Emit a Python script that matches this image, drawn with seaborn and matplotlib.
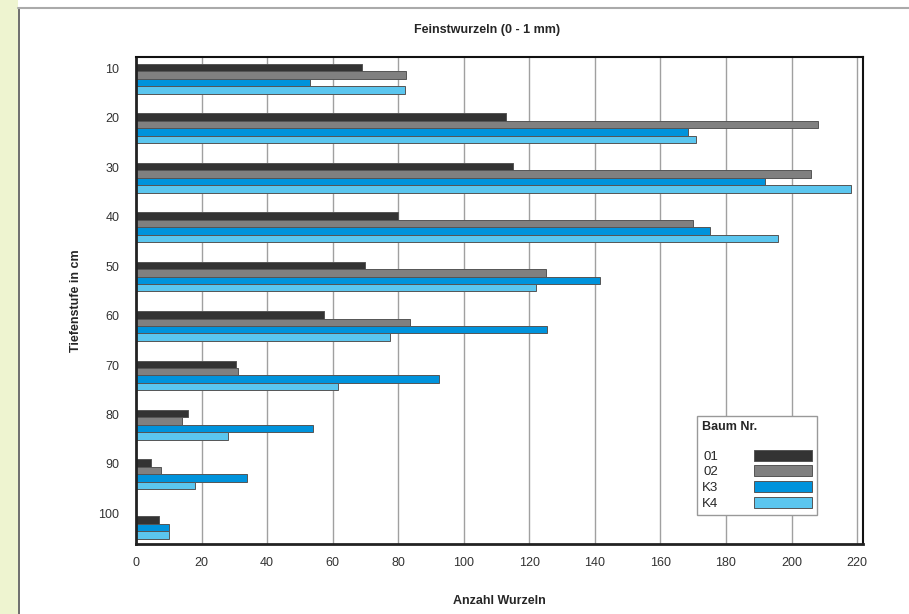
import matplotlib
matplotlib.use("Agg")
import matplotlib.pyplot as plt
import numpy as np
import pandas as pd
import seaborn as sns
from matplotlib.patches import Rectangle, Patch
from matplotlib.lines import Line2D

depths = ['10', '20', '30', '40', '50', '60', '70', '80', '90', '100']
trees = ['01', '02', 'K3', 'K4']

# Anzahl Wurzeln per depth
b01 = [69, 113, 115, 80, 70, 57.5, 30.5, 16, 4.5, 0]
b02 = [82.5, 208, 206, 170, 125, 83.5, 31, 14, 7.5, 7]
k3 = [53, 168.5, 192, 175, 141.5, 125.5, 92.5, 54, 34, 10]
k4 = [82, 171, 218, 196, 122, 77.5, 61.5, 28, 18, 10]

colors = ['#333333', '#808080', '#0093DC', '#5BC6EF']

df = pd.DataFrame({'Tiefe': depths, '01': b01, '02': b02, 'K3': k3, 'K4': k4})
df = df.melt(id_vars='Tiefe', var_name='Baum', value_name='Anzahl')

sns.set_style("white")
plt.rcParams['font.family'] = ['Liberation Sans', 'DejaVu Sans']

fig = plt.figure(figsize=(9.09, 6.14), dpi=100)
ax = fig.add_axes([0.1496, 0.114, 0.7998, 0.793])

# page decoration: yellow strip left, gray border lines
fig.patches.append(Rectangle((0, 0), 18 / 909, 1, transform=fig.transFigure,
                             facecolor='#EEF4D0', edgecolor='none', zorder=0))
fig.lines.append(Line2D([18.5 / 909, 18.5 / 909], [0, 1 - 8 / 614], transform=fig.transFigure,
                        color='#555555', lw=1.2))
fig.lines.append(Line2D([18 / 909, 1], [1 - 8 / 614, 1 - 8 / 614], transform=fig.transFigure,
                        color='#AAAAAA', lw=1.5))

sns.barplot(data=df, y='Tiefe', x='Anzahl', hue='Baum', orient='h', order=depths,
            hue_order=trees, palette=colors, saturation=1, width=0.6,
            edgecolor='#555555', linewidth=0.7, ax=ax, legend=False)

# in the original the deepest 02 bar is drawn in the dark 01 colour
bars_02 = ax.containers[1]
bars_02[len(depths) - 1].set_facecolor(colors[0])

ax.set_xlim(0, 221.8)
ax.set_ylim(9.41, -0.44)
ax.set_xticks(np.arange(0, 221, 20))
ax.set_yticks(np.arange(len(depths)) - 0.21, depths)
ax.tick_params(axis='both', length=0, labelsize=9, colors='#333333')
ax.tick_params(axis='x', pad=9)
ax.tick_params(axis='y', pad=12)
ax.grid(axis='x', color='#A0A0A0', linewidth=1)
ax.set_axisbelow(True)

for side in ['left', 'bottom']:
    ax.spines[side].set_linewidth(2)
    ax.spines[side].set_color('#222222')
for side in ['top', 'right']:
    ax.spines[side].set_linewidth(1.5)
    ax.spines[side].set_color('#111111')

ax.set_xlabel('Anzahl Wurzeln', fontsize=9, fontweight='bold', labelpad=19)
ax.set_ylabel('Tiefenstufe in cm', fontsize=9, fontweight='bold', labelpad=12)
fig.text(0.536, 1 - 30 / 614, 'Feinstwurzeln (0 - 1 mm)', ha='center', va='center',
         fontsize=9, fontweight='bold')

handles = [Patch(facecolor=c, edgecolor='#555555', linewidth=0.7) for c in colors]
leg = ax.legend(handles, trees, title='Baum Nr.\n', loc='upper left',
                bbox_to_anchor=((697 - 136) / 727, 1 - (416 - 57) / 487),
                markerfirst=False, fontsize=9.5, title_fontsize=9, frameon=True,
                fancybox=False, handlelength=4.4, handleheight=0.9, handletextpad=2.7,
                labelspacing=0.2, borderaxespad=0, borderpad=0.4)
leg.get_title().set_fontweight('bold')
leg._legend_box.align = 'left'
leg.get_frame().set_edgecolor('#999999')
leg.get_frame().set_linewidth(1)
leg.get_frame().set_alpha(1)

fig.savefig('out.png', dpi=100)
